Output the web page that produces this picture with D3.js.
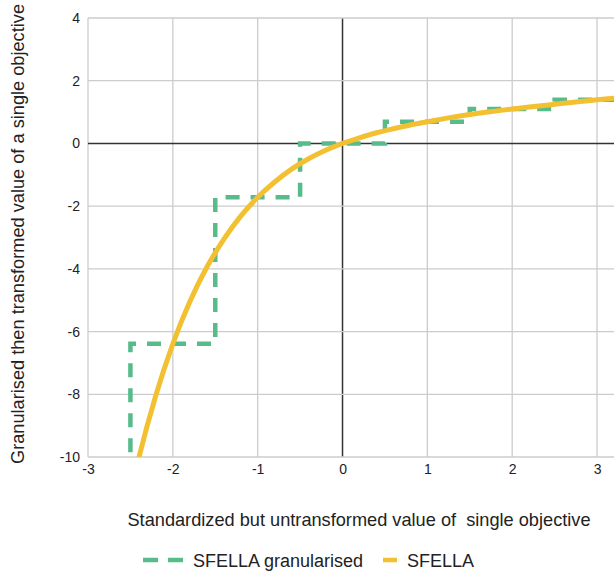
<!DOCTYPE html>
<html>
<head>
<meta charset="utf-8">
<script src="https://cdn.jsdelivr.net/npm/d3@7"></script>
<style>
  body { margin: 0; background: #fff; }
  text { font-family: Arial, "Liberation Sans", sans-serif; fill: #222; }
</style>
</head>
<body>
<div id="root"></div>
<script>
var width = 614;
var height = 573;

// SFELLA curve
var curveX = [-2.5, -2.4, -2.2, -2.0, -1.8, -1.6, -1.4, -1.2, -1.0, -0.8, -0.6, -0.4, -0.2, 0,
  0.2, 0.4, 0.6, 0.8, 1.0, 1.2, 1.4, 1.6, 1.8, 2.0, 2.2, 2.4, 2.6, 2.8, 3.0, 3.2];
var curveY = [-11.18, -10.02, -8.03, -6.39, -5.05, -3.95, -3.06, -2.32, -1.72, -1.23, -0.82, -0.49, -0.22, 0,
  0.18, 0.34, 0.47, 0.59, 0.69, 0.79, 0.88, 0.96, 1.03, 1.10, 1.16, 1.22, 1.28, 1.34, 1.39, 1.44];

// SFELLA granularised: start of each step and its level
var stepX = [-3.5, -2.5, -1.5, -0.5, 0.5, 1.5, 2.5, 3.2];
var stepY = [-19.1, -6.39, -1.72, 0, 0.69, 1.10, 1.39, 1.39];

var xTicks = [-3, -2, -1, 0, 1, 2, 3];
var yTicks = [-10, -8, -6, -4, -2, 0, 2, 4];

var margin = { left: 88, right: 0, top: 18, bottom: 116 };

var svg = d3.select('#root')
    .append('svg')
    .attr('width', width).attr('height', height);

var xScale = d3.scaleLinear()
    .domain([-3, 3.2])
    .range([margin.left, width - margin.right]);
var yScale = d3.scaleLinear()
    .domain([-10, 4])
    .range([height - margin.bottom, margin.top]);

svg.append('clipPath').attr('id', 'plot')
    .append('rect')
    .attr('x', margin.left).attr('y', margin.top)
    .attr('width', xScale(3.2) - margin.left)
    .attr('height', yScale(-10) - margin.top);

// grid
svg.append('g').selectAll('line')
    .data(xTicks).enter()
    .append('line')
    .attr('x1', function (d) { return xScale(d); })
    .attr('x2', function (d) { return xScale(d); })
    .attr('y1', yScale(4)).attr('y2', yScale(-10))
    .attr('stroke', function (d) { return d === 0 ? '#333' : '#ccc'; })
    .attr('stroke-width', function (d) { return d === 0 ? 1.5 : 1.3; });
svg.append('g').selectAll('line')
    .data(yTicks).enter()
    .append('line')
    .attr('x1', xScale(-3)).attr('x2', xScale(3.2))
    .attr('y1', function (d) { return yScale(d); })
    .attr('y2', function (d) { return yScale(d); })
    .attr('stroke', function (d) { return d === 0 ? '#333' : '#ccc'; })
    .attr('stroke-width', function (d) { return d === 0 ? 1.5 : 1.3; });

// tick labels (plain hyphen minus like the original)
var plain = function (d) { return String(d); };
var xAxis = d3.axisBottom(xScale).tickValues(xTicks).tickFormat(plain).tickSize(0).tickPadding(7);
var yAxis = d3.axisLeft(yScale).tickValues(yTicks).tickFormat(plain).tickSize(0).tickPadding(8);
var gx = svg.append('g')
    .attr('transform', 'translate(0,' + yScale(-10) + ')')
    .call(xAxis);
var gy = svg.append('g')
    .attr('transform', 'translate(' + xScale(-3) + ',0)')
    .call(yAxis);
[gx, gy].forEach(function (g) {
  g.select('.domain').remove();
  g.selectAll('text').attr('font-size', 14).attr('fill', '#222')
      .attr('font-family', 'Arial, "Liberation Sans", sans-serif');
});

var plot = svg.append('g').attr('clip-path', 'url(#plot)');

var stepLine = d3.line()
    .x(function (d) { return xScale(d[0]); })
    .y(function (d) { return yScale(d[1]); })
    .curve(d3.curveStepAfter);
plot.append('path')
    .datum(d3.zip(stepX, stepY))
    .attr('d', stepLine)
    .attr('fill', 'none')
    .attr('stroke', '#57bb8a')
    .attr('stroke-width', 4.5)
    .attr('stroke-dasharray', '14,11');

var smoothLine = d3.line()
    .x(function (d) { return xScale(d[0]); })
    .y(function (d) { return yScale(d[1]); })
    .curve(d3.curveMonotoneX);
plot.append('path')
    .datum(d3.zip(curveX, curveY))
    .attr('d', smoothLine)
    .attr('fill', 'none')
    .attr('stroke', '#f2c031')
    .attr('stroke-width', 5);

// titles
svg.append('text')
    .attr('x', 359).attr('y', 526)
    .attr('text-anchor', 'middle')
    .attr('font-size', 18.2)
    .style('white-space', 'pre')
    .text('Standardized but untransformed value of  single objective');
svg.append('text')
    .attr('transform', 'translate(24,234) rotate(-90)')
    .attr('text-anchor', 'middle')
    .attr('font-size', 18.2)
    .text('Granularised then transformed value of a single objective');

// legend
var legend = svg.append('g').attr('transform', 'translate(0,560)');
legend.append('line')
    .attr('x1', 143).attr('x2', 184).attr('y1', 0).attr('y2', 0)
    .attr('stroke', '#57bb8a').attr('stroke-width', 4.5)
    .attr('stroke-dasharray', '15,10');
legend.append('text')
    .attr('x', 193).attr('y', 6.5)
    .attr('font-size', 18)
    .text('SFELLA granularised');
legend.append('line')
    .attr('x1', 383).attr('x2', 397).attr('y1', 0).attr('y2', 0)
    .attr('stroke', '#f2c031').attr('stroke-width', 4.5);
legend.append('text')
    .attr('x', 407).attr('y', 6.5)
    .attr('font-size', 18)
    .text('SFELLA');
</script>
</body>
</html>
